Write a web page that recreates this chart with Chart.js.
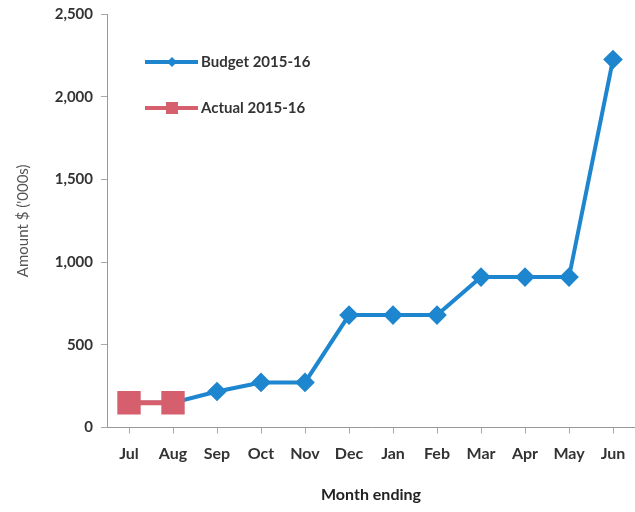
<!DOCTYPE html>
<html>
<head>
<meta charset="utf-8">
<script src="https://cdn.jsdelivr.net/npm/chart.js@4/dist/chart.umd.min.js"></script>
<style>
  html, body { margin: 0; padding: 0; background: #fff; }
  #wrap { width: 635px; height: 512px; }
</style>
</head>
<body>
<div id="wrap"><canvas id="chart" width="635" height="512"></canvas></div>
<script>
const months = ['Jul', 'Aug', 'Sep', 'Oct', 'Nov', 'Dec', 'Jan', 'Feb', 'Mar', 'Apr', 'May', 'Jun'];
const budget = [150, 150, 218, 273, 273, 680, 680, 680, 910, 910, 910, 2225];
const actual = [150, 150, null, null, null, null, null, null, null, null, null, null];

const BLUE = '#1d86cf';
const RED = '#d65f6e';
const FONT = 'Lato, "Liberation Sans", sans-serif';

// legend drawn inside the plot, top-left, like the original
const insideLegend = {
  id: 'insideLegend',
  afterDraw(chart) {
    const ctx = chart.ctx;
    const items = [
      { label: 'Budget 2015-16', color: BLUE, shape: 'diamond', y: 62 },
      { label: 'Actual 2015-16', color: RED, shape: 'square', y: 108 }
    ];
    ctx.save();
    items.forEach(it => {
      ctx.strokeStyle = it.color;
      ctx.lineWidth = 4;
      ctx.beginPath();
      ctx.moveTo(145, it.y);
      ctx.lineTo(198, it.y);
      ctx.stroke();
      ctx.fillStyle = it.color;
      if (it.shape === 'diamond') {
        ctx.beginPath();
        ctx.moveTo(172, it.y - 5);
        ctx.lineTo(177, it.y);
        ctx.lineTo(172, it.y + 5);
        ctx.lineTo(167, it.y);
        ctx.closePath();
        ctx.fill();
      } else {
        ctx.fillRect(166, it.y - 6, 12, 12);
      }
      ctx.fillStyle = '#333';
      ctx.font = 'bold 15px ' + FONT;
      ctx.textBaseline = 'middle';
      ctx.fillText(it.label, 201, it.y);
    });
    ctx.restore();
  }
};

new Chart(document.getElementById('chart').getContext('2d'), {
  type: 'line',
  data: {
    labels: months,
    datasets: [
      {
        label: 'Budget 2015-16',
        data: budget,
        borderColor: BLUE,
        backgroundColor: BLUE,
        borderWidth: 4,
        pointStyle: 'rectRot',
        pointRadius: 7,
        pointHoverRadius: 7,
        tension: 0,
        order: 2
      },
      {
        label: 'Actual 2015-16',
        data: actual,
        borderColor: RED,
        backgroundColor: RED,
        borderWidth: 5,
        pointStyle: 'rect',
        pointRadius: 13,
        pointHoverRadius: 13,
        tension: 0,
        order: 1
      }
    ]
  },
  options: {
    responsive: false,
    animation: false,
    layout: { autoPadding: false, padding: { top: 0, right: 0, bottom: 4, left: 0 } },
    plugins: {
      legend: { display: false },
      tooltip: { enabled: false }
    },
    scales: {
      x: {
        offset: true,
        afterFit(scale) { scale.paddingLeft = 0; scale.paddingRight = 0; },
        grid: { drawOnChartArea: false, color: '#aaa', tickLength: 6 },
        border: { color: '#999' },
        ticks: { color: '#333', font: { family: FONT, size: 16, weight: 'bold' }, padding: 11 },
        title: { display: true, text: 'Month ending', color: '#222', font: { family: FONT, size: 16, weight: 'bold' }, padding: { top: 10 } }
      },
      y: {
        min: 0,
        max: 2500,
        afterFit(scale) { scale.width = 107; scale.paddingTop = 14; },
        grid: { drawOnChartArea: false, color: '#aaa', tickLength: 6 },
        border: { color: '#999' },
        ticks: {
          stepSize: 500,
          color: '#333',
          font: { family: FONT, size: 15, weight: 'bold' },
          padding: 8,
          callback: v => v.toLocaleString('en-US')
        },
        title: { display: true, text: "Amount $ ('000s)", color: '#555', font: { family: FONT, size: 15 }, padding: { bottom: 4, top: 14 } }
      }
    }
  },
  plugins: [insideLegend]
});
</script>
</body>
</html>
